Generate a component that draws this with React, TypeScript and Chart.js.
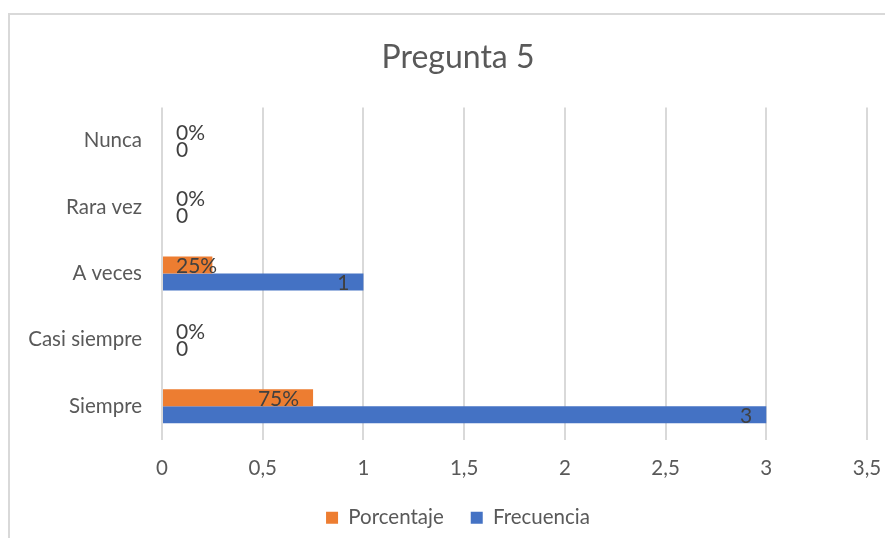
import React, { useEffect, useRef } from "react";
import { Chart, registerables } from "chart.js";

Chart.register(...registerables);

const categories = ["Nunca", "Rara vez", "A veces", "Casi siempre", "Siempre"];
const porcentaje = [0, 0, 0.25, 0, 0.75];
const frecuencia = [0, 0, 1, 0, 3];
const seriesNames = ["Porcentaje", "Frecuencia"];
const chartTitle = "Pregunta 5";

const FONT = "Lato, 'Noto Sans', sans-serif";

const labelPlugin = {
  id: "barLabels",
  afterDatasetsDraw(chart: any) {
    const ctx = chart.ctx;
    const xScale = chart.scales.x;
    const base = xScale.getPixelForValue(0);
    ctx.save();
    ctx.font = `21px ${FONT}`;
    ctx.fillStyle = "#404040";
    ctx.textAlign = "right";
    ctx.textBaseline = "middle";
    chart.data.datasets.forEach((ds: any, di: number) => {
      const meta = chart.getDatasetMeta(di);
      meta.data.forEach((bar: any, i: number) => {
        const v = ds.data[i];
        const txt = di === 0 ? `${Math.round(v * 100)}%` : String(v).replace(".", ",");
        const w = ctx.measureText(txt).width;
        const xr = Math.max(bar.x - 14, base + 14 + w);
        ctx.fillText(txt, xr, bar.y + 1);
      });
    });
    ctx.restore();
  },
};

export default function App() {
  const ref = useRef<HTMLCanvasElement>(null);
  useEffect(() => {
    document.body.style.overflow = "hidden";
    document.documentElement.style.overflow = "hidden";
    const chart = new Chart(ref.current!, {
      type: "bar",
      data: {
        labels: categories,
        datasets: [
          { label: seriesNames[0], data: porcentaje, backgroundColor: "#ED7D31", categoryPercentage: 0.51, barPercentage: 1 },
          { label: seriesNames[1], data: frecuencia, backgroundColor: "#4472C4", categoryPercentage: 0.51, barPercentage: 1 },
        ],
      },
      options: {
        indexAxis: "y",
        animation: false,
        responsive: false,
        maintainAspectRatio: false,
        layout: { padding: 0 },
        scales: {
          x: {
            min: 0,
            max: 3.5,
            ticks: {
              stepSize: 0.5,
              color: "#595959",
              font: { family: FONT, size: 20.5 },
              padding: 17,
              callback: (v: any) => String(v).replace(".", ","),
            },
            grid: { color: "#d9d9d9", lineWidth: 2, drawTicks: false },
            border: { display: false },
            afterFit: (s: any) => { s.height = 41; },
          },
          y: {
            ticks: { color: "#595959", font: { family: FONT, size: 20.5 }, padding: 20 },
            grid: { display: false, drawTicks: false },
            border: { display: false },
            afterFit: (s: any) => { s.width = 152; },
          },
          y2: {
            type: "category",
            position: "right",
            display: true,
            ticks: { display: false },
            grid: { display: false, drawTicks: false },
            border: { display: false },
            afterFit: (s: any) => { s.width = 39; },
          },
        },
        plugins: {
          title: {
            display: true,
            text: chartTitle,
            color: "#595959",
            font: { family: FONT, size: 32, weight: "normal" },
            padding: { top: 23, bottom: 31 },
          },
          legend: {
            position: "bottom",
            labels: {
              color: "#595959",
              font: { family: FONT, size: 20.5 },
              boxWidth: 12,
              boxHeight: 12,
              padding: 27,
            },
          },
          tooltip: { enabled: false },
        },
      },
      plugins: [labelPlugin],
    });
    return () => chart.destroy();
  }, []);
  return (
    <div
      style={{
        position: "relative",
        width: 898,
        height: 525,
        marginTop: 5,
        borderLeft: "2px solid #d9d9d9",
        borderTop: "2px solid #d9d9d9",
        boxSizing: "border-box",
      }}
    >
      <canvas ref={ref} width={896} height={523} style={{ display: "block" }} />
    </div>
  );
}
